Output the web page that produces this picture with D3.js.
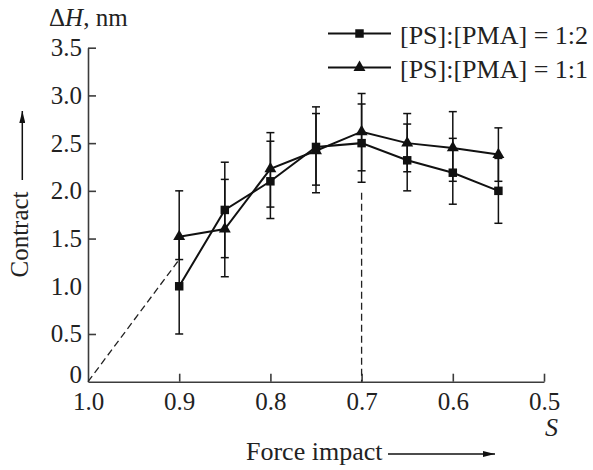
<!DOCTYPE html>
<html>
<head>
<meta charset="utf-8">
<script src="https://cdn.jsdelivr.net/npm/d3@7"></script>
<style>
    body { margin: 0; background: #fff; }
    text { font-family: "Liberation Serif", "Times New Roman", serif; fill: #222; }
    .tick line, .domain { stroke: #3c3c3c; stroke-width: 1.6; }
    .tick text { font-size: 25px; }
</style>
</head>
<body>
<script>
// values
const S = [0.9, 0.85, 0.8, 0.75, 0.7, 0.65, 0.6, 0.55];

const pma12 = [1.0, 1.8, 2.1, 2.46, 2.5, 2.32, 2.19, 2.0];
const pma12Lo = [0.5, 1.3, 1.71, 2.06, 2.09, 2.0, 1.86, 1.66];
const pma12Hi = [1.5, 2.3, 2.52, 2.88, 2.91, 2.7, 2.55, 2.34];

const pma11 = [1.52, 1.6, 2.23, 2.42, 2.62, 2.5, 2.45, 2.38];
const pma11Lo = [1.28, 1.1, 1.83, 1.98, 2.21, 2.2, 2.1, 2.1];
const pma11Hi = [2.0, 2.12, 2.61, 2.81, 3.02, 2.81, 2.83, 2.66];

const xTicks = [1.0, 0.9, 0.8, 0.7, 0.6, 0.5];
const yTicks = [0, 0.5, 1.0, 1.5, 2.0, 2.5, 3.0, 3.5];

// dashed guide lines (S, dH)
const guideDiag = [[1.0, 0], [0.9, 1.28]];
const guideVert = [[0.7, 1.98], [0.7, 0]];

const legendNames = ["[PS]:[PMA] = 1:2", "[PS]:[PMA] = 1:1"];

const W = 593, H = 470;

const svg = d3.select("body").append("svg")
    .attr("width", W)
    .attr("height", H);

svg.append("defs").append("marker")
    .attr("id", "arrow")
    .attr("viewBox", "0 0 12 6")
    .attr("refX", 12).attr("refY", 3)
    .attr("markerWidth", 12).attr("markerHeight", 6)
    .attr("markerUnits", "userSpaceOnUse")
    .attr("orient", "auto")
    .append("path")
    .attr("d", "M0,0 L12,3 L0,6 Z")
    .attr("fill", "#111");

const x = d3.scaleLinear().domain([1.0, 0.5]).range([88, 544]);
const y = d3.scaleLinear().domain([0, 3.5]).range([381.7, 47.7]);

// axes, ticks pointing inwards
svg.append("g")
    .attr("transform", "translate(0," + y(0) + ")")
    .call(d3.axisBottom(x).tickValues(xTicks).tickSizeInner(-8).tickSizeOuter(0)
        .tickPadding(11).tickFormat(d3.format(".1f")));

svg.append("g")
    .attr("transform", "translate(" + x(1.0) + ",0)")
    .call(d3.axisLeft(y).tickValues(yTicks).tickSizeInner(-8).tickSizeOuter(0)
        .tickPadding(6).tickFormat(d => d === 0 ? "0" : d3.format(".1f")(d)))
    .call(g => g.selectAll(".tick text").filter(d => d === 0).attr("dy", "0.05em"));

// the zero tick marks would sit on the other axis
svg.selectAll(".tick line").filter(d => d === 1.0 || d === 0).attr("opacity", 0);

// dashed guides
const guide = d3.line().x(d => x(d[0])).y(d => y(d[1]));
[guideDiag, guideVert].forEach(g => {
    svg.append("path")
        .attr("d", guide(g))
        .attr("fill", "none")
        .attr("stroke", "#222")
        .attr("stroke-width", 1.3)
        .attr("stroke-dasharray", "7,4");
});

const series = [
    {v: pma12, lo: pma12Lo, hi: pma12Hi, sym: d3.symbolSquare, size: 72},
    {v: pma11, lo: pma11Lo, hi: pma11Hi, sym: d3.symbolTriangle, size: 62}
];

const cap = 4;
series.forEach(s => {
    const g = svg.append("g");
    // error bars
    S.forEach((sv, i) => {
        const cx = x(sv);
        g.append("line")
            .attr("x1", cx).attr("x2", cx)
            .attr("y1", y(s.lo[i])).attr("y2", y(s.hi[i]))
            .attr("stroke", "#111").attr("stroke-width", 1.5);
        [s.lo[i], s.hi[i]].forEach(e => {
            g.append("line")
                .attr("x1", cx - cap).attr("x2", cx + cap)
                .attr("y1", y(e)).attr("y2", y(e))
                .attr("stroke", "#111").attr("stroke-width", 1.5);
        });
    });
});

series.forEach(s => {
    const line = d3.line().x((d, i) => x(S[i])).y(d => y(d));
    svg.append("path")
        .attr("d", line(s.v))
        .attr("fill", "none")
        .attr("stroke", "#111")
        .attr("stroke-width", 2);
    svg.append("g").selectAll("path")
        .data(s.v)
        .enter()
        .append("path")
        .attr("transform", (d, i) => "translate(" + x(S[i]) + "," + y(d) + ")")
        .attr("d", d3.symbol().type(s.sym).size(s.size))
        .attr("fill", "#111");
});

// legend
series.forEach((s, i) => {
    const ly = 33.5 + i * 34;
    svg.append("line")
        .attr("x1", 328).attr("x2", 391)
        .attr("y1", ly).attr("y2", ly)
        .attr("stroke", "#111").attr("stroke-width", 2);
    svg.append("path")
        .attr("transform", "translate(359.5," + ly + ")")
        .attr("d", d3.symbol().type(s.sym).size(s.size))
        .attr("fill", "#111");
    svg.append("text")
        .attr("x", 400).attr("y", ly + 2)
        .attr("dy", "0.32em")
        .style("font-size", "26px")
        .text(legendNames[i]);
});

// axis titles
svg.append("text")
    .attr("x", 49).attr("y", 26)
    .style("font-size", "25px")
    .html('\u0394<tspan font-style="italic">H</tspan>, nm');

svg.append("text")
    .attr("x", 558).attr("y", 436)
    .attr("text-anchor", "end")
    .style("font-size", "26px")
    .style("font-style", "italic")
    .text("S");

svg.append("text")
    .attr("x", 246).attr("y", 460)
    .style("font-size", "26px")
    .text("Force impact");

svg.append("line")
    .attr("x1", 388).attr("x2", 495)
    .attr("y1", 454).attr("y2", 454)
    .attr("stroke", "#111").attr("stroke-width", 1.5)
    .attr("marker-end", "url(#arrow)");

svg.append("text")
    .attr("transform", "translate(28,234.5) rotate(-90)")
    .attr("text-anchor", "middle")
    .style("font-size", "25px")
    .text("Contract");

svg.append("line")
    .attr("x1", 22.3).attr("x2", 22.3)
    .attr("y1", 180).attr("y2", 111)
    .attr("stroke", "#111").attr("stroke-width", 1.5)
    .attr("marker-end", "url(#arrow)");
</script>
</body>
</html>
